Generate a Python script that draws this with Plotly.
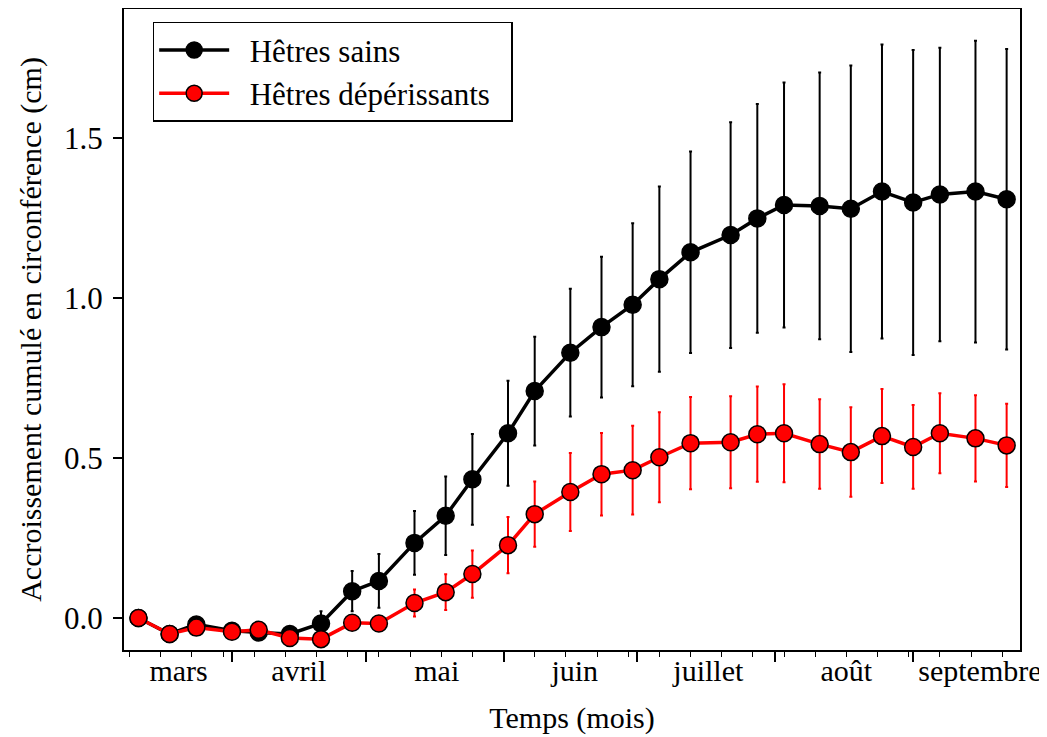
import plotly.graph_objects as go

# dates des relevés
dates = [
    "2011-03-11", "2011-03-18", "2011-03-24", "2011-04-01", "2011-04-07",
    "2011-04-14", "2011-04-21", "2011-04-28", "2011-05-04", "2011-05-12",
    "2011-05-19", "2011-05-25", "2011-06-02", "2011-06-08", "2011-06-16",
    "2011-06-23", "2011-06-30", "2011-07-06", "2011-07-13", "2011-07-22",
    "2011-07-28", "2011-08-03", "2011-08-11", "2011-08-18", "2011-08-25",
    "2011-09-01", "2011-09-07", "2011-09-15", "2011-09-22",
]

sains = [
    0.0, -0.05, -0.02, -0.04, -0.045, -0.05, -0.017, 0.084, 0.116, 0.235,
    0.32, 0.434, 0.578, 0.71, 0.83, 0.91, 0.98, 1.06, 1.144, 1.198,
    1.25, 1.292, 1.289, 1.28, 1.334, 1.30, 1.325, 1.334, 1.31,
]
sains_err = [
    0.005, 0.01, 0.01, 0.015, 0.015, 0.02, 0.038, 0.063, 0.084, 0.1,
    0.123, 0.142, 0.164, 0.17, 0.2, 0.22, 0.255, 0.29, 0.315, 0.353,
    0.358, 0.383, 0.417, 0.448, 0.46, 0.477, 0.459, 0.472, 0.47,
]

deper = [
    0.0, -0.05, -0.03, -0.043, -0.037, -0.0625, -0.066, -0.015, -0.017, 0.047,
    0.081, 0.1375, 0.228, 0.325, 0.394, 0.45, 0.4625, 0.503, 0.547, 0.55,
    0.575, 0.578, 0.544, 0.519, 0.569, 0.535, 0.578, 0.562, 0.54,
]
deper_err = [
    0.005, 0.01, 0.01, 0.01, 0.01, 0.01, 0.015, 0.02, 0.02, 0.042,
    0.056, 0.074, 0.088, 0.102, 0.122, 0.129, 0.139, 0.141, 0.144, 0.144,
    0.149, 0.153, 0.14, 0.14, 0.147, 0.131, 0.125, 0.135, 0.13,
]

month_starts = ["2011-04-01", "2011-05-01", "2011-06-01", "2011-07-01", "2011-08-01", "2011-09-01"]
month_mids = ["2011-03-20", "2011-04-16", "2011-05-17", "2011-06-17", "2011-07-17", "2011-08-17", "2011-09-16"]
month_names = ["mars", "avril", "mai", "juin", "juillet", "août", "septembre"]

FONT = "Liberation Serif, Times New Roman, serif"
FS = 31
PAD = "\u00a0\u00a0"
x_range = ["2011-03-07 18:00", "2011-09-25 00:00"]

fig = go.Figure()
fig.add_scatter(
    x=dates,
    y=sains,
    name=PAD + "Hêtres sains",
    mode="lines+markers",
    line=dict(color="black", width=3.5),
    marker=dict(size=17, color="black", line=dict(color="black", width=1.5)),
    error_y=dict(type="data", array=sains_err, color="black", thickness=2, width=1.5),
)
fig.add_scatter(
    x=dates,
    y=deper,
    name=PAD + "Hêtres dépérissants" + PAD,
    mode="lines+markers",
    line=dict(color="#ff0000", width=3.5),
    marker=dict(size=17, color="#ff0000", line=dict(color="black", width=1.5)),
    error_y=dict(type="data", array=deper_err, color="#ff0000", thickness=2, width=1.5),
)
# axe fantôme pour les noms de mois centrés
fig.add_scatter(x=[dates[0]], y=[None], xaxis="x2", showlegend=False, hoverinfo="skip")

fig.update_layout(
    width=1039,
    height=729,
    margin=dict(l=116, r=27, t=1, b=87),
    paper_bgcolor="white",
    plot_bgcolor="white",
    font=dict(family=FONT, size=FS, color="black"),
    showlegend=True,
    legend=dict(
        x=0.032, y=0.98, xanchor="left", yanchor="top",
        bordercolor="black", borderwidth=1.5, bgcolor="white",
        font=dict(size=FS), itemwidth=70, tracegroupgap=0,
    ),
    xaxis=dict(
        type="date",
        range=x_range,
        automargin=False,
        tickmode="array",
        tickvals=month_starts,
        showticklabels=False,
        ticks="outside", ticklen=10, tickwidth=1.5, tickcolor="black",
        minor=dict(ticks="outside", ticklen=5, tickwidth=1, tickcolor="black",
                   dtick=7 * 86400000, tick0="2011-03-09"),
        showline=True, linecolor="black", linewidth=2, mirror=True,
        showgrid=False, zeroline=False,
        title=dict(text="Temps (mois)", font=dict(size=FS - 1), standoff=46),
    ),
    xaxis2=dict(
        type="date",
        range=x_range,
        overlaying="x",
        side="bottom",
        automargin=False,
        tickmode="array",
        tickvals=month_mids,
        ticktext=month_names,
        ticks="", ticklen=0,
        showline=False, showgrid=False, zeroline=False,
        tickfont=dict(size=FS - 1),
    ),
    yaxis=dict(
        range=[-0.1, 1.905],
        automargin=False,
        tickmode="array",
        tickvals=[0, 0.5, 1.0, 1.5],
        tickformat=".1f",
        ticks="outside", ticklen=9, tickwidth=1.5, tickcolor="black",
        ticklabelstandoff=4,
        showline=True, linecolor="black", linewidth=2, mirror=True,
        showgrid=False, zeroline=False,
        title=dict(text="Accroissement cumulé en circonférence (cm)", font=dict(size=FS - 1), standoff=14),
    ),
)

fig.write_html("out.html")
